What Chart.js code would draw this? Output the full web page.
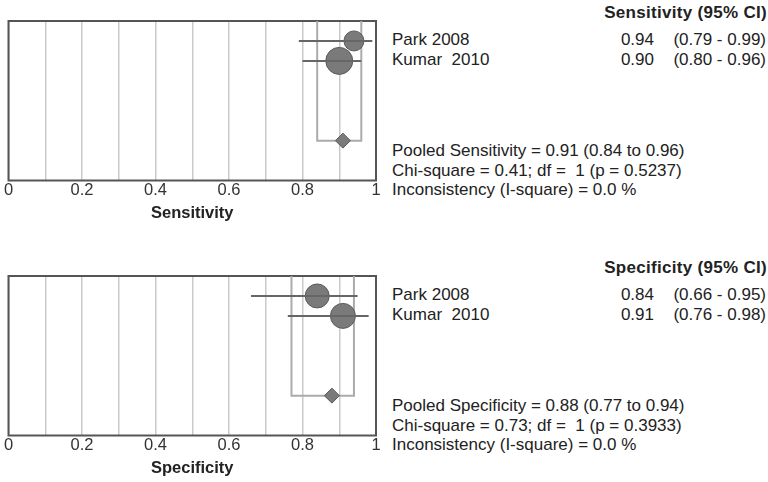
<!DOCTYPE html>
<html>
<head>
<meta charset="utf-8">
<script src="https://cdn.jsdelivr.net/npm/chart.js@4.4.1/dist/chart.umd.min.js"></script>
<style>
  html, body { margin: 0; padding: 0; background: #fff; }
  body { width: 768px; height: 482px; position: relative; overflow: hidden;
         font-family: "Liberation Sans", Arial, sans-serif; color: #222; }
  .panel { position: absolute; left: 0; width: 768px; height: 227px; }
  .panel canvas { position: absolute; left: 0; top: 0; }
  .txt { position: absolute; font-size: 17px; white-space: pre; line-height: 20px; margin-top: -10px; }
  .hdr { font-weight: bold; letter-spacing: 0.3px; }
</style>
</head>
<body>
<div class="panel" id="sensPanel"><canvas id="sensChart" width="390" height="227"></canvas></div>
<div class="panel" id="specPanel" style="top:255px"><canvas id="specChart" width="390" height="227"></canvas></div>
<script>
const studies = ['Park 2008', 'Kumar  2010'];

const sensEst = [0.94, 0.90];
const sensLow = [0.79, 0.80];
const sensHigh = [0.99, 0.96];
const sensPooled = [0.91, 0.84, 0.96];   // estimate, lower, upper
const sensHet = [0.41, 1, 0.5237, 0.0];  // chi-square, df, p, I-square

const specEst = [0.84, 0.91];
const specLow = [0.66, 0.76];
const specHigh = [0.95, 0.98];
const specPooled = [0.88, 0.77, 0.94];
const specHet = [0.73, 1, 0.3933, 0.0];

const tickLabels = ['0', '0.2', '0.4', '0.6', '0.8', '1'];

// marker sizes (study weights)
const sensRadius = [10, 13.5];
const specRadius = [12, 12.5];

const FONT = '"Liberation Sans", Arial, sans-serif';
const POOLED_ROW = 6;

const frame = {
  id: 'frame',
  beforeDatasetsDraw(chart) {
    const { ctx, chartArea: a } = chart;
    ctx.save();
    ctx.strokeStyle = '#555';
    ctx.lineWidth = 2;
    ctx.strokeRect(a.left, a.top, a.right - a.left, a.bottom - a.top);
    ctx.restore();
  }
};

function makeForest(canvasId, axisTitle, est, low, high, pooled, radius) {
  const datasets = [];

  // pooled confidence box
  datasets.push({
    data: [
      { x: pooled[1], y: 0 }, { x: pooled[1], y: POOLED_ROW },
      { x: pooled[2], y: POOLED_ROW }, { x: pooled[2], y: 0 }
    ],
    showLine: true, borderColor: '#ababab', borderWidth: 2, pointRadius: 0, order: 3
  });

  // study estimates
  datasets.push({
    data: est.map((v, i) => ({ x: v, y: i + 1 })),
    pointRadius: radius, backgroundColor: '#7a7a7a', borderColor: '#5a5a5a',
    borderWidth: 1, order: 2
  });

  // pooled diamond
  datasets.push({
    data: [{ x: pooled[0], y: POOLED_ROW }],
    pointStyle: 'rectRot', pointRadius: 7.5, backgroundColor: '#7a7a7a',
    borderColor: '#5a5a5a', borderWidth: 1, order: 2
  });

  // confidence intervals
  est.forEach((v, i) => {
    datasets.push({
      data: [{ x: low[i], y: i + 1 }, { x: high[i], y: i + 1 }],
      showLine: true, borderColor: '#666', borderWidth: 2, pointRadius: 0, order: 1
    });
  });

  return new Chart(document.getElementById(canvasId), {
    type: 'scatter',
    data: { datasets },
    options: {
      responsive: false,
      animation: false,
      layout: { autoPadding: false, padding: { left: 8.5, top: 21, right: 14, bottom: 0 } },
      plugins: { legend: { display: false }, tooltip: { enabled: false } },
      scales: {
        x: {
          type: 'linear', min: 0, max: 1,
          afterFit: (scale) => { scale.height = 46.5; },
          grid: { color: '#cacaca', lineWidth: 1.5, drawTicks: false },
          border: { display: false },
          ticks: {
            stepSize: 0.1, autoSkip: false, maxRotation: 0, padding: 0,
            color: '#333', font: { family: FONT, size: 16.5 },
            callback: (v, i) => (i % 2 === 0 ? tickLabels[i / 2] : '')
          },
          title: {
            display: true, text: axisTitle, color: '#222',
            font: { family: FONT, size: 16.5, weight: 'bold' },
            padding: { top: 0, bottom: 4 }
          }
        },
        y: { display: false, min: 0, max: 8, reverse: true }
      }
    },
    plugins: [frame]
  });
}

function addText(panel, txt, x, y, align, bold) {
  const d = document.createElement('div');
  d.className = 'txt' + (bold ? ' hdr' : '');
  d.textContent = txt;
  d.style.top = y + 'px';
  if (align === 'right') d.style.right = (768 - x) + 'px';
  else d.style.left = x + 'px';
  panel.appendChild(d);
}

function addTable(panelId, chart, name, est, low, high, pooled, het) {
  const panel = document.getElementById(panelId);
  const yScale = chart.scales.y;
  addText(panel, name + ' (95% CI)', 767, 13, 'right', true);
  studies.forEach((s, i) => {
    const y = yScale.getPixelForValue(i + 1) - 1;
    addText(panel, s, 392, y, 'left');
    addText(panel, est[i].toFixed(2), 654, y, 'right');
    addText(panel, '(' + low[i].toFixed(2) + ' - ' + high[i].toFixed(2) + ')', 766, y, 'right');
  });
  addText(panel, 'Pooled ' + name + ' = ' + pooled[0].toFixed(2) + ' (' +
    pooled[1].toFixed(2) + ' to ' + pooled[2].toFixed(2) + ')', 392, 151, 'left');
  addText(panel, 'Chi-square = ' + het[0].toFixed(2) + '; df =  ' + het[1] +
    ' (p = ' + het[2].toFixed(4) + ')', 392, 170.5, 'left');
  addText(panel, 'Inconsistency (I-square) = ' + het[3].toFixed(1) + ' %', 392, 190, 'left');
}

const sensChart = makeForest('sensChart', 'Sensitivity', sensEst, sensLow, sensHigh, sensPooled, sensRadius);
const specChart = makeForest('specChart', 'Specificity', specEst, specLow, specHigh, specPooled, specRadius);

addTable('sensPanel', sensChart, 'Sensitivity', sensEst, sensLow, sensHigh, sensPooled, sensHet);
addTable('specPanel', specChart, 'Specificity', specEst, specLow, specHigh, specPooled, specHet);
</script>
</body>
</html>
